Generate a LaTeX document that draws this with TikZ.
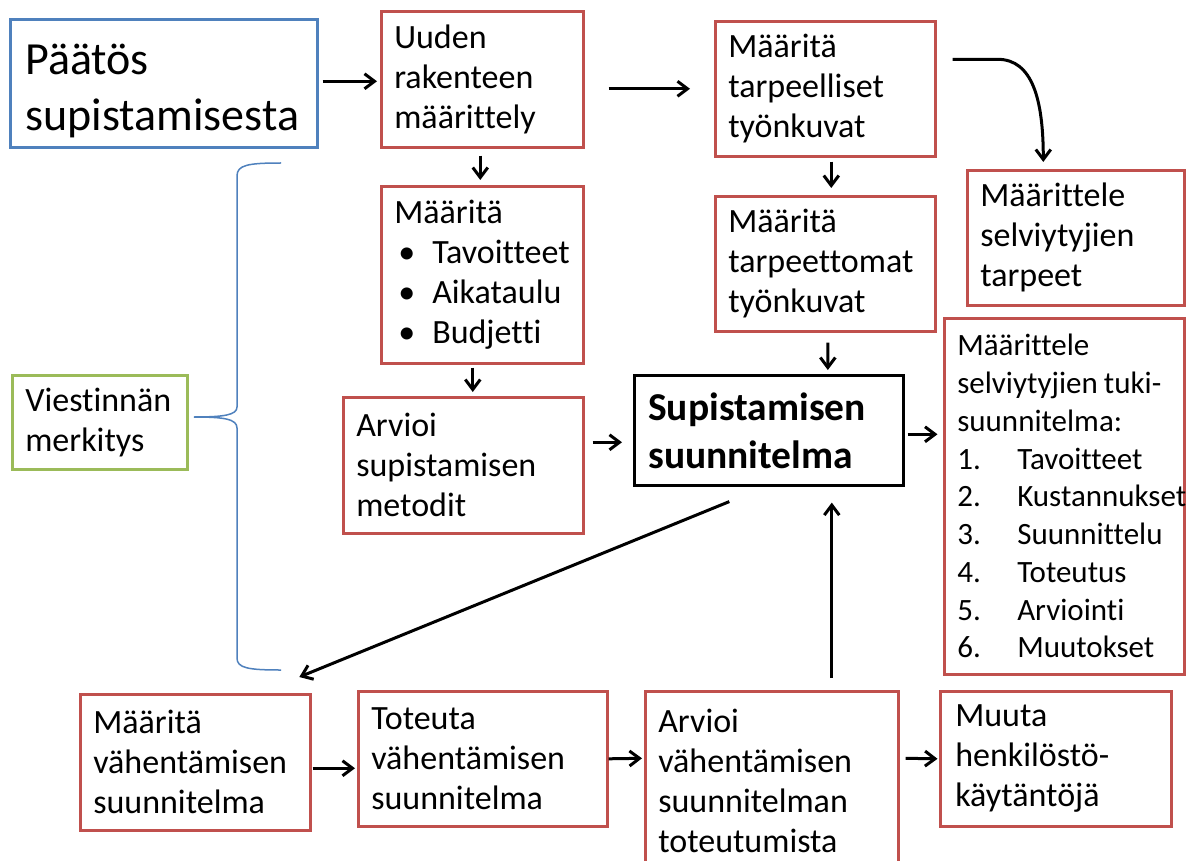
\documentclass[tikz,border=0pt]{standalone}
\usepackage{fontspec}
\setmainfont{Carlito}[Ligatures=NoCommon]
\usetikzlibrary{calc,arrows.meta}
\definecolor{offred}{HTML}{C0504D}
\definecolor{offblue}{HTML}{4F81BD}
\definecolor{offgreen}{HTML}{9BBB59}
\tikzset{
  box/.style={draw, line width=2.6pt, rectangle, anchor=north west, inner xsep=13pt, inner ysep=0pt, align=left,
    font=\fontsize{34}{40}\selectfont},
  redbox/.style={box, draw=offred},
  bluebox/.style={box, draw=offblue},
  greenbox/.style={box, draw=offgreen},
  blackbox/.style={box, draw=black},
  bx/.style 2 args={minimum width=#1pt, text width=#1pt-26pt, minimum height=#2pt},
  arr/.style={line width=3pt, -{Straight Barb[length=10pt,width=15pt]}},
  brace/.style={draw=offblue, line width=1.5pt}
}
\begin{document}
\begin{tikzpicture}[x=1pt,y=-1pt]
\useasboundingbox (0,0) rectangle (1186,861);
\clip (0,0) rectangle (1186,861);
\fill[white] (0,0) rectangle (1186,861);

\node[bluebox, bx={307}{128}, inner xsep=15pt, text width=277pt, font=\fontsize{46}{56}\selectfont] (pd) at (9,18) {\rule{0pt}{45pt}Päätös\\supistamisesta};
\node[redbox, bx={202}{136}] (uu) at (380,10) {Uuden\\rakenteen\\määrittely};
\node[redbox, bx={202}{177}] (mb) at (380,185) {Määritä\\\hspace*{4pt}\makebox[34pt][l]{•}Tavoitteet\\\hspace*{4pt}\makebox[34pt][l]{•}Aikataulu\\\hspace*{4pt}\makebox[34pt][l]{•}Budjetti};
\node[redbox, bx={240}{136}] (am) at (342,396) {Arvioi\\supistamisen\\metodit};
\node[greenbox, bx={175}{94}] (vm) at (11,374) {Viestinnän\\merkitys};
\node[redbox, bx={220}{135}] (tl) at (714,20) {Määritä\\tarpeelliset\\työnkuvat};
\node[redbox, bx={220}{135}] (tt) at (714,195) {Määritä\\tarpeettomat\\työnkuvat};
\node[redbox, bx={217}{135}] (st) at (966,169) {Määrittele\\selviytyjien\\tarpeet};
\node[redbox, bx={240}{356}, font=\fontsize{31}{37.75}\selectfont] (sk) at (943,317) {Määrittele\\selviytyjien\hspace{6pt}tuki-\\suunnitelma:\\\makebox[60pt][l]{1.}Tavoitteet\\\makebox[60pt][l]{2.}Kustannukset\\\makebox[60pt][l]{3.}Suunnittelu\\\makebox[60pt][l]{4.}Toteutus\\\makebox[60pt][l]{5.}Arviointi\\\makebox[60pt][l]{6.}Muutokset};
\node[blackbox, bx={269}{110}, inner xsep=14pt, text width=241pt, font=\fontsize{39.5}{48}\selectfont\bfseries] (ss) at (633,374) {Supistamisen\\suunnitelma};
\node[redbox, bx={230}{136}] (mv) at (79,693) {Määritä\\vähentämisen\\suunnitelma};
\node[redbox, bx={249}{135}] (tv) at (357,690) {Toteuta\\vähentämisen\\suunnitelma};
\node[redbox, bx={253}{180}] (av) at (644,690) {Arvioi\\vähentämisen\\suunnitelman\\toteutumista};
\node[redbox, bx={231}{135}, inner xsep=15pt, text width=201pt] (mh) at (939,690) {Muuta\\henkilöstö-\\käytäntöjä};

% brace
\draw[brace] (281,163) .. controls (248,163) and (237,165) .. (237,176)
  -- (237,407) .. controls (237,415) and (224,417) .. (194,417)
  .. controls (224,417) and (237,419) .. (237,428)
  -- (237,658) .. controls (237,668) and (248,670) .. (281,670);

% connectors
\draw[arr] ($(pd.east)+(4,-2)$) -- ($(uu.west |- pd.east)+(-3,-2)$);
\draw[arr] ($(uu.east |- tl.west)+(24,0)$) -- ($(tl.west)+(-24,0)$);
\draw[arr] ($(uu.south)+(-2,7)$) -- ($(mb.north)+(-2,-5)$);
\draw[arr] ($(mb.south)+(-9.5,3)$) -- ($(am.north)+(9.5,-4)$);
\draw[arr] ($(tl.south)+(6,4)$) -- ($(tt.north)+(6,-7)$);
\draw[arr] ($(tt.south)+(2.6,10)$) -- ($(ss.north)+(59,-4)$);
\draw[arr] ($(am.east)+(8,-23)$) -- ($(ss.west)+(-11,12)$);
\draw[arr] ($(ss.east)+(3,4)$) -- ($(sk.west |- ss.east)+(-5.5,4)$);
\coordinate (c1) at ($(tl.east)+(16,-29.5)$);
\coordinate (c2) at ($(st.north)+(-32.5,-7)$);
\draw[arr] (c1) -- ++(45,0) .. controls +(35,0) and +(0,-62) .. (c2);
\draw[arr] ($(ss.south)+(-39.5,15)$) -- ($(mv.north)+(104,-16)$);
\draw[arr] ($(av.north)+(60,-12)$) -- ($(ss.south)+(63,16)$);
\draw[arr] ($(mv.east)+(1,6)$) -- ($(tv.west)+(-2,9.5)$);
\draw[arr] ($(tv.east)+(0,0)$) -- ($(av.west)+(-2,-23)$);
\draw[arr] ($(av.east)+(6,-23)$) -- ($(mh.west)+(-1.5,0)$);
\end{tikzpicture}
\end{document}
